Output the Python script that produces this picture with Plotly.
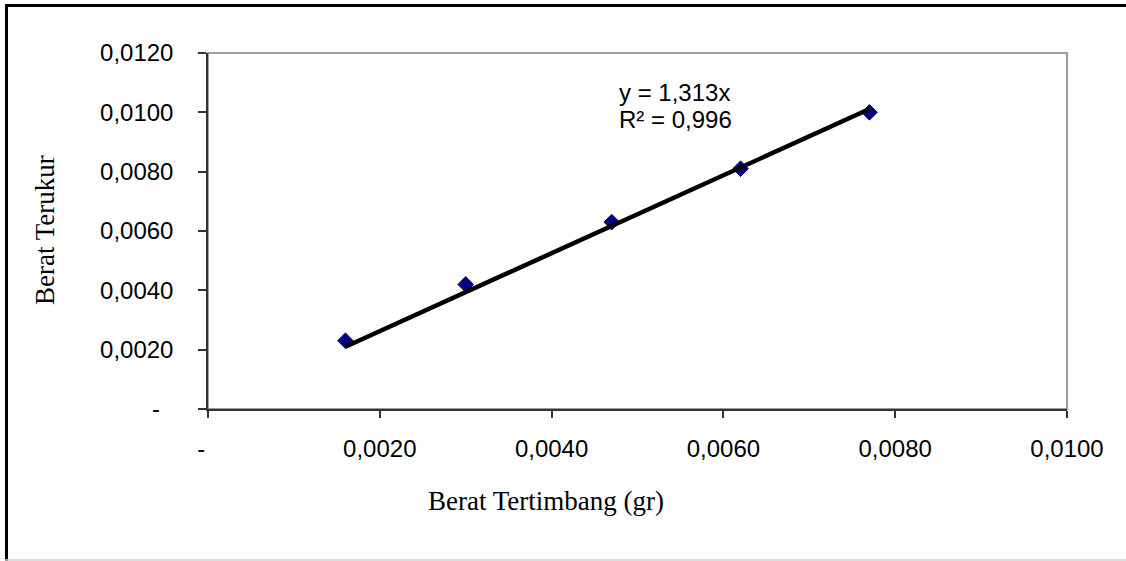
import numpy as np
import plotly.graph_objects as go

# data
berat_tertimbang = [0.0016, 0.0030, 0.0047, 0.0062, 0.0077]
berat_terukur = [0.0023, 0.0042, 0.0063, 0.0081, 0.0100]
slope = 1.313
r_squared = 0.996

x_tickvals = [0, 0.002, 0.004, 0.006, 0.008, 0.010]
x_ticktext = ["-\u00a0\u00a0", "0,0020", "0,0040", "0,0060", "0,0080", "0,0100"]
y_tickvals = [0, 0.002, 0.004, 0.006, 0.008, 0.010, 0.012]
y_ticktext = ["-\u00a0\u00a0", "0,0020", "0,0040", "0,0060", "0,0080", "0,0100", "0,0120"]

W, H = 1126, 561
ML, MR, MT, MB = 208, 59, 53, 152
PW, PH = W - ML - MR, H - MT - MB


def px(xp):
    return (xp - ML) / PW


def py(yp):
    return (H - MB - yp) / PH


sans = "Liberation Sans, Arial, sans-serif"
serif = "Liberation Serif, Times New Roman, serif"

trend_x = np.array([min(berat_tertimbang), max(berat_tertimbang)])
trend_y = slope * trend_x

fig = go.Figure()
fig.add_trace(go.Scatter(
    x=berat_tertimbang, y=berat_terukur, mode="markers",
    marker=dict(symbol="diamond", size=12, color="#000080",
                line=dict(color="#000080", width=1)),
    showlegend=False, cliponaxis=False))
fig.add_trace(go.Scatter(
    x=trend_x, y=trend_y, mode="lines",
    line=dict(color="black", width=4.5),
    showlegend=False))

fig.update_layout(
    width=W, height=H,
    margin=dict(l=ML, r=MR, t=MT, b=MB),
    paper_bgcolor="white", plot_bgcolor="white",
    font=dict(family=sans, size=24, color="black"),
    xaxis=dict(range=[0, 0.010], tickvals=x_tickvals, ticktext=x_ticktext,
               showgrid=False, zeroline=False, showline=True,
               linecolor="#333333", linewidth=2, ticks="outside",
               ticklen=7, tickwidth=1.5, tickcolor="#333333",
               ticklabelstandoff=10,
               tickfont=dict(family=sans, size=24, color="black")),
    yaxis=dict(range=[0, 0.012], tickvals=y_tickvals, ticktext=y_ticktext,
               showgrid=False, zeroline=False, showline=True,
               linecolor="#333333", linewidth=1.5, ticks="outside",
               ticklen=8, tickwidth=1.5, tickcolor="#333333",
               ticklabelstandoff=20,
               tickfont=dict(family=sans, size=24, color="black")),
    shapes=[
        dict(type="rect", xref="paper", yref="paper", x0=0, x1=1, y0=0, y1=1,
             line=dict(color="#808080", width=1.5), layer="below"),
        dict(type="line", xref="paper", yref="paper",
             x0=px(6.5), x1=px(6.5), y0=py(4), y1=py(561),
             line=dict(color="black", width=3)),
        dict(type="line", xref="paper", yref="paper",
             x0=px(5), x1=px(1126), y0=py(5.5), y1=py(5.5),
             line=dict(color="black", width=3)),
        dict(type="line", xref="paper", yref="paper",
             x0=px(5), x1=px(1126), y0=py(560), y1=py(560),
             line=dict(color="#d0d0d0", width=1.5)),
    ],
    annotations=[
        dict(text="Berat Tertimbang (gr)", xref="paper", yref="paper",
             x=px(546), y=py(501), xanchor="center", yanchor="middle",
             showarrow=False, font=dict(family=serif, size=27, color="black")),
        dict(text="Berat Terukur", xref="paper", yref="paper",
             x=px(45), y=py(230), xanchor="center", yanchor="middle",
             textangle=-90, showarrow=False,
             font=dict(family=serif, size=27, color="black")),
        dict(text="y = " + f"{slope:.3f}".replace(".", ",") + "x",
             xref="paper", yref="paper",
             x=px(617), y=py(92), xanchor="left", yanchor="middle",
             showarrow=False, font=dict(family=sans, size=24, color="black")),
        dict(text="R² = " + f"{r_squared:.3f}".replace(".", ","),
             xref="paper", yref="paper",
             x=px(617), y=py(119), xanchor="left", yanchor="middle",
             showarrow=False, font=dict(family=sans, size=24, color="black")),
    ],
)

fig.write_html("out.html")
